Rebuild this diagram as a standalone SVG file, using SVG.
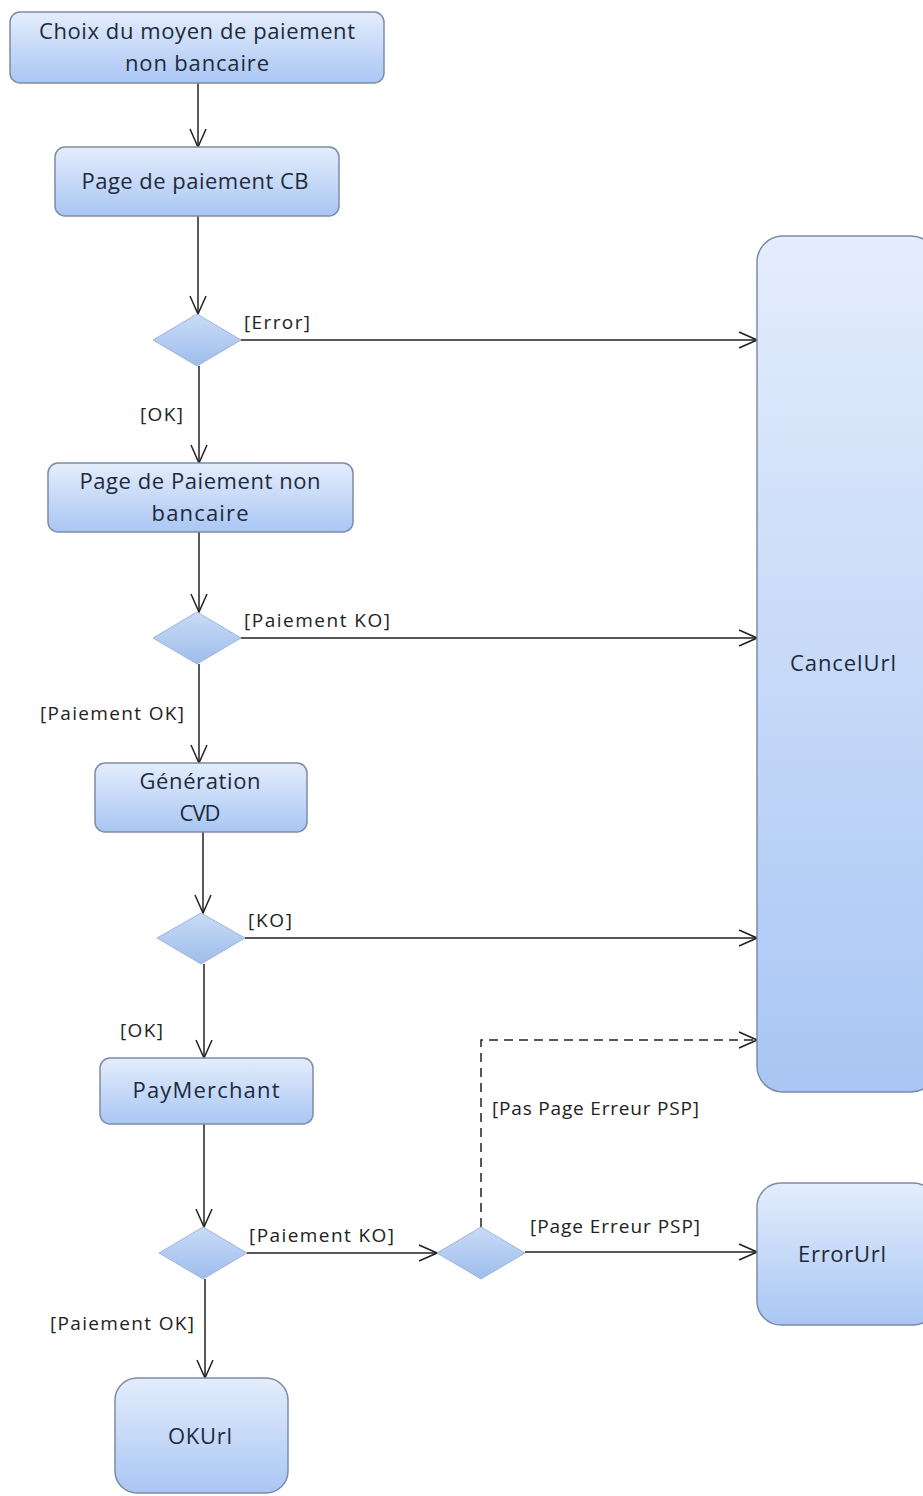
<svg xmlns="http://www.w3.org/2000/svg" width="923" height="1496" viewBox="0 0 923 1496">
<defs>
<linearGradient id="g" x1="0" y1="0" x2="0" y2="1">
<stop offset="0" stop-color="#e4edfc"/>
<stop offset="1" stop-color="#a9c6f4"/>
</linearGradient>
<linearGradient id="gd" x1="0" y1="0" x2="0" y2="1">
<stop offset="0" stop-color="#c9dbf7"/>
<stop offset="1" stop-color="#9ebdeb"/>
</linearGradient>
<marker id="a" viewBox="0 0 20 20" refX="19" refY="10" markerWidth="20" markerHeight="20" markerUnits="userSpaceOnUse" orient="auto">
<path d="M1,2 L19,10 L1,18" fill="none" stroke="#222" stroke-width="1.5"/>
</marker>
<style>
.n{fill:url(#g);stroke:#7d8ca6;stroke-width:1.5}
.d{fill:url(#gd);stroke:#9fb6dc;stroke-width:1}
.t{font-family:"Open Sans","Liberation Sans",sans-serif;font-size:22px;fill:#1f2a3a;text-anchor:middle}
.l{font-family:"Open Sans","Liberation Sans",sans-serif;font-size:19px;fill:#222}
.c{fill:none;stroke:#222;stroke-width:1.5}
.dash{stroke-dasharray:9,6}
</style>
</defs>
<g id="connectors">
<line class="c" x1="198" y1="83" x2="198" y2="147" marker-end="url(#a)"/>
<line class="c" x1="198" y1="216" x2="198" y2="314" marker-end="url(#a)"/>
<line class="c" x1="241" y1="340" x2="757" y2="340" marker-end="url(#a)"/>
<line class="c" x1="199" y1="366" x2="199" y2="463" marker-end="url(#a)"/>
<line class="c" x1="199" y1="532" x2="199" y2="612" marker-end="url(#a)"/>
<line class="c" x1="241" y1="638" x2="757" y2="638" marker-end="url(#a)"/>
<line class="c" x1="199" y1="664" x2="199" y2="763" marker-end="url(#a)"/>
<line class="c" x1="203" y1="832" x2="203" y2="913" marker-end="url(#a)"/>
<line class="c" x1="245" y1="938" x2="757" y2="938" marker-end="url(#a)"/>
<line class="c" x1="204" y1="964" x2="204" y2="1058" marker-end="url(#a)"/>
<line class="c" x1="204" y1="1124" x2="204" y2="1227" marker-end="url(#a)"/>
<line class="c" x1="247" y1="1253" x2="437" y2="1253" marker-end="url(#a)"/>
<polyline class="c dash" points="481,1227 481,1040 757,1040" marker-end="url(#a)"/>
<line class="c" x1="525" y1="1252" x2="757" y2="1252" marker-end="url(#a)"/>
<line class="c" x1="205" y1="1279" x2="205" y2="1378" marker-end="url(#a)"/>
<text class="l" x="244" y="329" textLength="66">[Error]</text>
<text class="l" x="140" y="421" textLength="43">[OK]</text>
<text class="l" x="244" y="627" textLength="146">[Paiement KO]</text>
<text class="l" x="40" y="720" textLength="144">[Paiement OK]</text>
<text class="l" x="248" y="927" textLength="44">[KO]</text>
<text class="l" x="120" y="1037" textLength="43">[OK]</text>
<text class="l" x="492" y="1115" textLength="207">[Pas Page Erreur PSP]</text>
<text class="l" x="249" y="1242" textLength="145">[Paiement KO]</text>
<text class="l" x="530" y="1233" textLength="170">[Page Erreur PSP]</text>
<text class="l" x="50" y="1330" textLength="144">[Paiement OK]</text>
</g>
<g id="choix">
<rect class="n" x="10" y="12" width="374" height="71" rx="10"/>
<text class="t" x="197" y="39" textLength="316">Choix du moyen de paiement</text>
<text class="t" x="197" y="71" textLength="144">non bancaire</text>
</g>
<g id="pageCB">
<rect class="n" x="55" y="147" width="284" height="69" rx="10"/>
<text class="t" x="195" y="189" textLength="227">Page de paiement CB</text>
</g>
<g id="dec1"><polygon class="d" points="197,314 241,340 197,366 153,340"/></g>
<g id="pageNB">
<rect class="n" x="48" y="463" width="305" height="69" rx="10"/>
<text class="t" x="200" y="489" textLength="241">Page de Paiement non</text>
<text class="t" x="200" y="521" textLength="97">bancaire</text>
</g>
<g id="dec2"><polygon class="d" points="197,612 241,638 197,664 153,638"/></g>
<g id="gen">
<rect class="n" x="95" y="763" width="212" height="69" rx="10"/>
<text class="t" x="200" y="789" textLength="121">Génération</text>
<text class="t" x="200" y="821" textLength="41">CVD</text>
</g>
<g id="dec3"><polygon class="d" points="201,913 245,938 201,964 157,938"/></g>
<g id="pay">
<rect class="n" x="100" y="1058" width="213" height="66" rx="10"/>
<text class="t" x="206" y="1098" textLength="147">PayMerchant</text>
</g>
<g id="dec4"><polygon class="d" points="203,1227 247,1253 203,1279 159,1253"/></g>
<g id="dec5"><polygon class="d" points="481,1227 525,1253 481,1279 437,1253"/></g>
<g id="cancel">
<rect class="n" x="757" y="236" width="180" height="856" rx="26"/>
<text class="t" x="843" y="671" textLength="106">CancelUrl</text>
</g>
<g id="error">
<rect class="n" x="757" y="1183" width="180" height="142" rx="24"/>
<text class="t" x="842" y="1262" textLength="88">ErrorUrl</text>
</g>
<g id="ok">
<rect class="n" x="115" y="1378" width="173" height="115" rx="22"/>
<text class="t" x="200" y="1444" textLength="64">OKUrl</text>
</g>
</svg>
